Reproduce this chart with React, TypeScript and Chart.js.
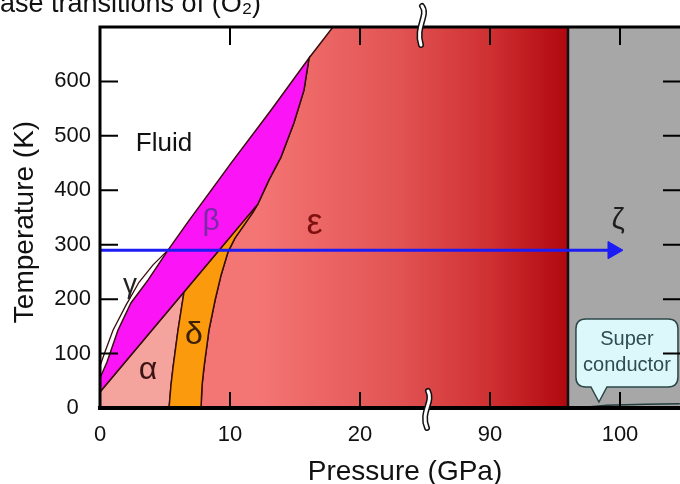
import React, { useEffect, useRef } from 'react';
import { Chart, registerables } from 'chart.js';
Chart.register(...registerables);

const FONT = "'Liberation Sans', Arial, Helvetica, sans-serif";

// ---- data: [pressure (GPa), temperature (K)] ----
const meltingBeta: [number, number][] = [
  [0, 55], [0.54, 84.5], [1.38, 143], [2.38, 193], [3.69, 235], [5.23, 290],
  [6.77, 342], [10.08, 450], [13.15, 547], [16.08, 643],
];
const gammaOuter: [number, number][] = [
  [0, 77], [0.38, 103], [1.0, 143], [2.0, 189], [3.0, 231], [4.08, 263], [5.23, 290],
];
const epsilonMelting: [number, number][] = [[16.08, 643], [17.92, 700]];
const betaEpsilon: [number, number][] = [
  [16.08, 643], [15.69, 584], [14.92, 524], [13.92, 461], [13.0, 419], [12.15, 375],
];
const betaLower: [number, number][] = [[12.15, 375], [6.46, 213], [0, 29.4]];
const deltaLeft: [number, number][] = [
  [5.31, 0], [5.46, 42], [5.62, 75], [6.0, 143], [6.46, 213],
];
const deltaRight: [number, number][] = [
  [12.15, 375], [11.77, 360], [11.08, 336], [10.38, 312], [9.85, 287], [9.31, 244],
  [8.85, 198], [8.38, 143], [8.0, 75], [7.85, 42], [7.77, 0],
];
const zetaStart = 96;
const pressureEnd = 105;
const tempMax = 700;
const arrowLine: [number, number][] = [[0, 290], [99.46, 290]];
const superconductorLine: [number, number][] = [[97.5, 2], [99, 5], [102, 7], [104.6, 8]];

const xTickValues = [0, 10, 20, 90, 100];
const yTickValues = [0, 100, 200, 300, 400, 500, 600];

const labelText = ['Fluid', 'α', 'β', 'γ', 'δ', 'ε', 'ζ'];
const labelP = [4.92, 3.69, 8.54, 2.3, 7.23, 16.5, 99.85];
const labelT = [485, 70, 342, 226, 134, 338, 344];

const calloutAnchor: [number, number] = [98.38, 11];

// ---- helpers ----
const BREAK_LOW = 25;
const BREAK_SHIFT = 60;
const toAxis = (p: number) => (p <= BREAK_LOW ? p : p - BREAK_SHIFT);
const fromAxis = (u: number) => (u <= BREAK_LOW ? u : u + BREAK_SHIFT);
const pts = (arr: [number, number][]) => arr.map(([p, t]) => ({ x: toAxis(p), y: t }));

const alphaPoly: [number, number][] = [
  [0, 0], ...betaLower.slice(1).reverse(), ...deltaLeft.slice(0, -1).reverse(), [0, 0],
];
const deltaPoly: [number, number][] = [
  ...deltaLeft, ...betaLower.slice(0, 2).reverse().slice(1), ...deltaRight.slice(1), deltaLeft[0],
];
const betaPoly: [number, number][] = [
  [0, 29.4], ...meltingBeta, ...betaEpsilon.slice(1), ...betaLower.slice(1),
];
const epsilonPoly: [number, number][] = [
  ...epsilonMelting, [zetaStart, tempMax], [zetaStart, 0],
  ...deltaRight.slice().reverse(), ...betaEpsilon.slice(0, -1).reverse(),
];
const zetaPoly: [number, number][] = [
  [zetaStart, 0], [pressureEnd, 0], [pressureEnd, tempMax], [zetaStart, tempMax], [zetaStart, 0],
];
const zetaBoundary: [number, number][] = [[zetaStart, 0], [zetaStart, tempMax]];

const LINE = '#3a0d0d';

function epsGradient(chart: any) {
  const xs = chart.scales.x;
  const g = chart.ctx.createLinearGradient(
    xs.getPixelForValue(toAxis(12)), 0, xs.getPixelForValue(toAxis(zetaStart)), 0);
  g.addColorStop(0, '#f47674');
  g.addColorStop(0.45, '#e25454');
  g.addColorStop(0.75, '#cf3032');
  g.addColorStop(1, '#b0080e');
  return g;
}

const polyFillPlugin = {
  id: 'polyFill',
  beforeDatasetDraw(chart: any, args: any) {
    const ds = chart.data.datasets[args.index];
    const fill = ds.polyFill;
    if (!fill) return;
    const els = args.meta.data;
    const { ctx, chartArea: a } = chart;
    ctx.save();
    ctx.beginPath();
    ctx.rect(a.left, a.top, a.right - a.left, a.bottom - a.top);
    ctx.clip();
    ctx.beginPath();
    els.forEach((p: any, i: number) => (i ? ctx.lineTo(p.x, p.y) : ctx.moveTo(p.x, p.y)));
    ctx.closePath();
    ctx.fillStyle = fill === 'epsilon' ? epsGradient(chart) : fill;
    ctx.fill();
    ctx.restore();
  },
};

const labelColors = ['#111111', '#3a1414', '#7a2aa6', '#222222', '#3a2000', '#7e1010', '#1e1e1e'];
const labelSizes = [26, 32, 30, 28, 32, 36, 30];

const decorPlugin = {
  id: 'decor',
  afterDatasetsDraw(chart: any) {
    const { ctx, chartArea: a } = chart;
    const xs = chart.scales.x;
    const ys = chart.scales.y;
    const px = (p: number) => xs.getPixelForValue(toAxis(p));
    const py = (t: number) => ys.getPixelForValue(t);
    ctx.save();

    // phase labels
    ctx.textAlign = 'center';
    ctx.textBaseline = 'middle';
    labelText.forEach((txt, i) => {
      ctx.font = `${labelSizes[i]}px ${FONT}`;
      ctx.fillStyle = labelColors[i];
      ctx.fillText(txt, px(labelP[i]), py(labelT[i]));
    });

    // superconductor callout
    const tx = px(calloutAnchor[0]);
    const ty = py(calloutAnchor[1]);
    const bl = tx - 23, br = tx + 79, bt = ty - 83, bb = ty - 15;
    ctx.beginPath();
    ctx.moveTo(bl + 10, bt);
    ctx.lineTo(br - 10, bt);
    ctx.quadraticCurveTo(br, bt, br, bt + 10);
    ctx.lineTo(br, bb - 10);
    ctx.quadraticCurveTo(br, bb, br - 10, bb);
    ctx.lineTo(tx + 8, bb);
    ctx.lineTo(tx, ty);
    ctx.lineTo(tx - 8, bb);
    ctx.lineTo(bl + 10, bb);
    ctx.quadraticCurveTo(bl, bb, bl, bb - 10);
    ctx.lineTo(bl, bt + 10);
    ctx.quadraticCurveTo(bl, bt, bl + 10, bt);
    ctx.closePath();
    ctx.fillStyle = '#dcf8fa';
    ctx.fill();
    ctx.lineWidth = 1.5;
    ctx.strokeStyle = '#2b4747';
    ctx.stroke();
    ctx.font = `20px ${FONT}`;
    ctx.fillStyle = '#2e4d52';
    ctx.textAlign = 'center';
    ctx.textBaseline = 'middle';
    const cx = (bl + br) / 2;
    ctx.fillText('Super', cx, bt + 20);
    ctx.fillText('conductor', cx, bt + 46);

    // inward tick marks
    ctx.strokeStyle = '#000';
    ctx.lineWidth = 2;
    ctx.beginPath();
    yTickValues.forEach((t) => {
      if (t === 0) return;
      const y = py(t);
      ctx.moveTo(a.left, y); ctx.lineTo(a.left + 18, y);
      ctx.moveTo(a.right - 17, y); ctx.lineTo(a.right, y);
    });
    xTickValues.forEach((p) => {
      if (p === 0) return;
      const x = px(p);
      ctx.moveTo(x, a.top); ctx.lineTo(x, a.top + 18);
      ctx.moveTo(x, a.bottom); ctx.lineTo(x, a.bottom - 16);
    });
    ctx.stroke();

    // frame
    ctx.lineCap = 'square';
    ctx.lineWidth = 3;
    ctx.beginPath();
    ctx.moveTo(a.right + 2, a.top);
    ctx.lineTo(a.left, a.top);
    ctx.lineTo(a.left, a.bottom);
    ctx.stroke();
    ctx.lineWidth = 4;
    ctx.beginPath();
    ctx.moveTo(a.left, a.bottom);
    ctx.lineTo(a.right + 2, a.bottom);
    ctx.stroke();

    // axis break marks
    const bx = xs.getPixelForValue(BREAK_LOW);
    const squiggle = (pathFn: () => void) => {
      ctx.lineCap = 'round';
      ctx.strokeStyle = '#111';
      ctx.lineWidth = 6;
      ctx.beginPath(); pathFn(); ctx.stroke();
      ctx.strokeStyle = '#fff';
      ctx.lineWidth = 3;
      ctx.beginPath(); pathFn(); ctx.stroke();
    };
    squiggle(() => {
      ctx.moveTo(bx - 3, a.top - 21);
      ctx.bezierCurveTo(bx + 4, a.top - 12, bx - 10, a.top, bx - 4, a.top + 18);
    });
    squiggle(() => {
      ctx.moveTo(bx + 3, a.bottom - 17);
      ctx.bezierCurveTo(bx + 9, a.bottom - 6, bx - 5, a.bottom + 4, bx + 2, a.bottom + 20);
    });

    // axis titles
    ctx.fillStyle = '#111';
    ctx.font = `28px ${FONT}`;
    ctx.textAlign = 'center';
    ctx.textBaseline = 'alphabetic';
    ctx.fillText('Pressure (GPa)', 405, 480);
    ctx.save();
    ctx.translate(33, 222);
    ctx.rotate(-Math.PI / 2);
    ctx.fillText('Temperature (K)', 0, 0);
    ctx.restore();

    // cropped figure title
    ctx.font = `27px ${FONT}`;
    ctx.textAlign = 'left';
    ctx.fillText('Phase transitions of (O₂)', -33, 12);

    ctx.restore();
  },
};

export default function App() {
  const ref = useRef<HTMLCanvasElement | null>(null);
  useEffect(() => {
    if (!ref.current) return;
    const base = { showLine: true, fill: false, pointRadius: 0, pointHitRadius: 0, tension: 0 };
    const chart = new Chart(ref.current, {
      type: 'line',
      data: {
        datasets: [
          {
            ...base, data: pts(arrowLine), borderColor: '#1c1cf5', borderWidth: 3,
            pointRadius: [0, 10] as any, pointStyle: 'triangle', pointRotation: [0, 90] as any,
            pointBackgroundColor: '#1c1cf5', pointBorderColor: '#1c1cf5', pointBorderWidth: 1, order: 1,
          },
          { ...base, data: pts(superconductorLine), borderColor: '#1f3b3b', borderWidth: 1.5, order: 2 },
          { ...base, data: pts(zetaBoundary), borderColor: '#111', borderWidth: 2.5, order: 3 },
          { ...base, data: pts(gammaOuter), borderColor: LINE, borderWidth: 1.3, order: 4 },
          { ...base, data: pts(betaPoly), borderColor: LINE, borderWidth: 1.5, polyFill: '#fa14f6', order: 5 } as any,
          { ...base, data: pts(deltaPoly), borderColor: LINE, borderWidth: 1.5, polyFill: '#fb9a0c', order: 6 } as any,
          { ...base, data: pts(alphaPoly), borderColor: LINE, borderWidth: 1.3, polyFill: '#f5a39d', order: 7 } as any,
          { ...base, data: pts(epsilonPoly), borderColor: LINE, borderWidth: 1.5, polyFill: 'epsilon', order: 8 } as any,
          { ...base, data: pts(zetaPoly), borderColor: 'rgba(0,0,0,0)', borderWidth: 0, polyFill: '#a7a7a7', order: 9 } as any,
        ],
      },
      options: {
        animation: false,
        responsive: false,
        events: [],
        layout: { autoPadding: false, padding: { top: 27, left: 0, right: 0, bottom: 0 } },
        plugins: { legend: { display: false }, tooltip: { enabled: false }, title: { display: false } },
        scales: {
          x: {
            type: 'linear',
            min: 0,
            max: toAxis(pressureEnd) - 0.385,
            grid: { display: false, drawTicks: false },
            border: { display: false },
            afterFit: (s: any) => { s.height = 76; },
            ticks: {
              stepSize: 10,
              includeBounds: false,
              padding: 14,
              color: '#111',
              font: { family: FONT, size: 22 },
              maxRotation: 0,
              autoSkip: false,
              callback: (v: any) => {
                const lbl = fromAxis(Number(v));
                return xTickValues.includes(lbl) ? String(lbl) : '';
              },
            },
          },
          y: {
            type: 'linear',
            min: 0,
            max: tempMax,
            grid: { display: false, drawTicks: false },
            border: { display: false },
            afterFit: (s: any) => { s.width = 100; },
            ticks: {
              stepSize: 100,
              includeBounds: false,
              padding: 9,
              color: '#111',
              font: { family: FONT, size: 22 },
              callback: (v: any) => {
                const n = Number(v);
                if (!yTickValues.includes(n)) return '';
                return n === 0 ? '0  ' : String(n);
              },
            },
          },
        },
      },
      plugins: [polyFillPlugin, decorPlugin],
    } as any);
    return () => chart.destroy();
  }, []);
  return (
    <div style={{ position: 'fixed', left: 0, top: 0, width: 680, height: 484, background: '#fff' }}>
      <canvas ref={ref} width={680} height={484} style={{ display: 'block' }} />
    </div>
  );
}
